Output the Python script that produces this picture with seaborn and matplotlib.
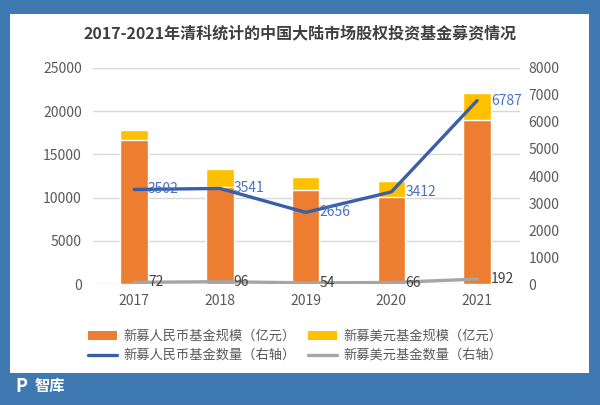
import matplotlib
matplotlib.use("Agg")
import matplotlib.pyplot as plt
import matplotlib.patches as mpatches
from matplotlib.lines import Line2D
import seaborn as sns
import pandas as pd
import numpy as np

years = ["2017", "2018", "2019", "2020", "2021"]
rmb_scale = [16700, 11200, 10880, 10100, 18960]      # 新募人民币基金规模（亿元）
usd_scale = [1100, 2070, 1540, 1820, 3150]            # 新募美元基金规模（亿元）
rmb_count = [3502, 3541, 2656, 3412, 6787]            # 新募人民币基金数量（右轴）
usd_count = [72, 96, 54, 66, 192]                     # 新募美元基金数量（右轴）
left_ticks = [0, 5000, 10000, 15000, 20000, 25000]
right_ticks = [0, 1000, 2000, 3000, 4000, 5000, 6000, 7000, 8000]

title = "2017-2021年清科统计的中国大陆市场股权投资基金募资情况"
labels = ["新募人民币基金规模（亿元）", "新募美元基金规模（亿元）",
          "新募人民币基金数量（右轴）", "新募美元基金数量（右轴）"]

sns.set_theme(style="white")
plt.rcParams['font.family'] = ['Noto Sans CJK SC', 'DejaVu Sans']

C_ORANGE = "#ed7d31"
C_YELLOW = "#ffc000"
C_BLUE = "#3b5ea9"
C_BLUE_TXT = "#4a72c0"
C_GRAY = "#a5a5a5"
C_TXT = "#595959"
C_FRAME = "#3f79b1"

df = pd.DataFrame({
    "year": years,
    "rmb": rmb_scale,
    "usd": usd_scale,
    "rmbc": rmb_count,
    "usdc": usd_count,
})
df["total"] = df["rmb"] + df["usd"]
df["pos"] = np.arange(len(df))

fig = plt.figure(figsize=(6.0, 4.05), dpi=100, facecolor=C_FRAME)
# white panel
fig.patches.append(mpatches.Rectangle((10/600, (405-373)/405), 579/600, 359/405,
                                      transform=fig.transFigure, facecolor="white",
                                      edgecolor="none", zorder=-5))

ax = fig.add_axes([93/600, (405-284.3)/405, 427/600, 216.6/405])
ax.set_facecolor("none")

sns.barplot(data=df, x="year", y="total", color=C_YELLOW, width=0.32,
            saturation=1, ax=ax, zorder=2)
sns.barplot(data=df, x="year", y="rmb", color=C_ORANGE, width=0.32,
            saturation=1, ax=ax, zorder=3)

ax.set_ylim(0, 25000)
ax.set_yticks(left_ticks)
ax.set_xlim(-0.48, 4.5)
ax.set_xlabel("")
ax.set_ylabel("")
ax.yaxis.grid(True, color="#d9d9d9", linewidth=1)
ax.set_axisbelow(True)
for s in ax.spines.values():
    s.set_visible(False)
ax.tick_params(axis="y", length=0, pad=8, labelsize=10, labelcolor=C_TXT)
ax.tick_params(axis="x", length=0, pad=7, labelsize=10, labelcolor=C_TXT)

ax2 = ax.twinx()
sns.lineplot(data=df, x="pos", y="usdc", color=C_GRAY, linewidth=2.4, ax=ax2,
             zorder=4)
sns.lineplot(data=df, x="pos", y="rmbc", color=C_BLUE, linewidth=2.4, ax=ax2,
             zorder=5)
ax2.set_ylim(0, 8000)
ax2.set_yticks(right_ticks)
ax2.set_xlim(ax.get_xlim())
ax2.set_xlabel("")
ax2.set_ylabel("")
ax2.grid(False)
for s in ax2.spines.values():
    s.set_visible(False)
ax2.tick_params(axis="y", length=0, pad=6, labelsize=10, labelcolor=C_TXT)

for p, v in zip(df["pos"], df["rmbc"]):
    ax2.annotate(f"{v}", (p, v), xytext=(10, 0), textcoords="offset points",
                 ha="left", va="center", fontsize=10, color=C_BLUE_TXT, zorder=6)
for p, v in zip(df["pos"], df["usdc"]):
    ax2.annotate(f"{v}", (p, v), xytext=(10, 0), textcoords="offset points",
                 ha="left", va="center", fontsize=10, color="#404040", zorder=6)

fig.text(0.5, (405-33)/405, title, ha="center", va="center", fontsize=11.5,
         fontweight="semibold", color="#404040")

h_rmb = mpatches.Patch(facecolor=C_ORANGE, edgecolor="none")
h_usd = mpatches.Patch(facecolor=C_YELLOW, edgecolor="none")
h_rmbc = Line2D([], [], color=C_BLUE, linewidth=2.4)
h_usdc = Line2D([], [], color=C_GRAY, linewidth=2.4)
# legend fills column-wise: order so rows read orange/yellow, blue/gray
fig.legend([h_rmb, h_rmbc, h_usd, h_usdc],
           [labels[0], labels[2], labels[1], labels[3]],
           ncol=2, loc="center",
           bbox_to_anchor=(0.492, (405-346)/405), frameon=False,
           fontsize=9.5, handlelength=2.2, handleheight=0.6, handletextpad=0.45,
           columnspacing=1.0, labelspacing=0.45, labelcolor=C_TXT)

# logo
fig.text(0.025, (405-386)/405, "P", ha="left", va="center", fontsize=13,
         fontweight="bold", color="white")
fig.text(0.058, (405-386)/405, "智库", ha="left", va="center", fontsize=11,
         fontweight="bold", color="white")

fig.savefig("out.png", dpi=100, facecolor=fig.get_facecolor())
